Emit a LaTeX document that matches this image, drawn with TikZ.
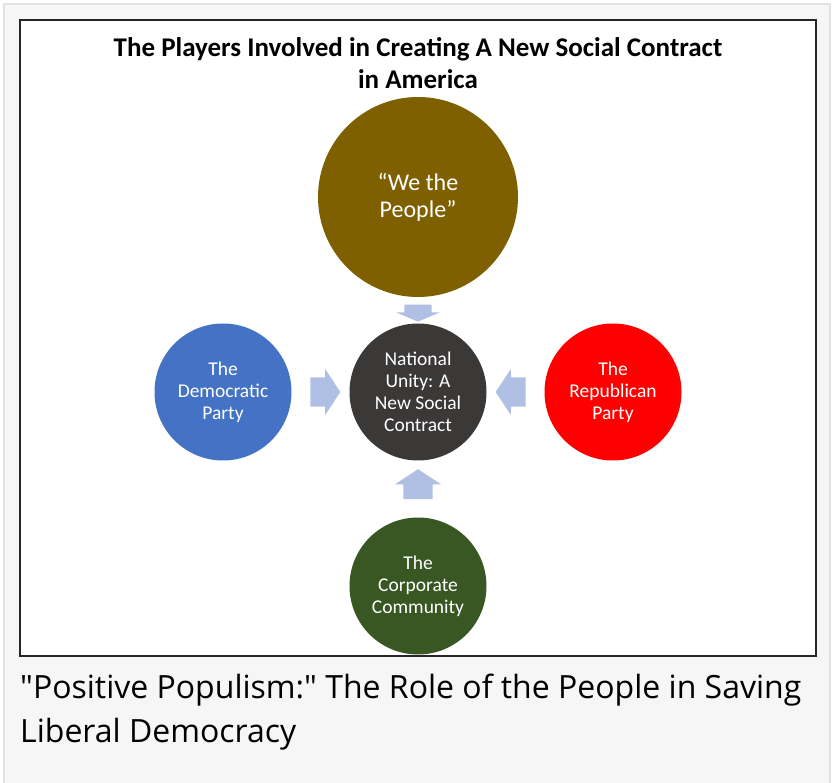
\documentclass[tikz,border=0pt]{standalone}
\usepackage{fontspec}
\setmainfont{Carlito}
\newfontfamily\captionfont{Open Sans}
\usetikzlibrary{shapes.arrows,calc}

\definecolor{panelgray}{HTML}{F6F6F6}
\definecolor{panelline}{HTML}{E2E2E2}
\definecolor{framegray}{HTML}{262626}
\definecolor{peoplegold}{HTML}{7F6000}
\definecolor{unitygray}{HTML}{3B3838}
\definecolor{demblue}{HTML}{4472C4}
\definecolor{repred}{HTML}{FF0000}
\definecolor{corpgreen}{HTML}{385723}
\definecolor{pushblue}{HTML}{B0C0E4}

\begin{document}
\begin{tikzpicture}[x=1pt,y=-1pt]

      \useasboundingbox (0,0) rectangle (833,783);
      \fill[white] (0,0) rectangle (833,783);
      \draw[panelline, fill=panelgray, line width=1.5pt] (4,4) rectangle (830,790);
      \draw[framegray, fill=white, line width=2pt] (20,20) rectangle (816,656);

      \node[font=\bfseries\fontsize{27}{32}\selectfont, align=center] (title) at (418,63)
        {The Players Involved in Creating A New Social Contract\\in America};

      \begin{scope}[every node/.style={circle,text=white,align=center,inner sep=0pt,
          minimum size=137pt,font=\fontsize{19.5}{22}\selectfont}]
        \node[fill=peoplegold, minimum size=200pt, font=\fontsize{24}{27}\selectfont]
          (people) at (418,197) {“We the\\People”};
        \node[fill=unitygray] (unity) at (418,392) {National\\Unity: A\\New Social\\Contract};
        \node[fill=demblue]   (dem)   at (223,392) {The\\Democratic\\Party};
        \node[fill=repred]    (rep)   at (613,392) {The\\Republican\\Party};
        \node[fill=corpgreen] (corp)  at (418,586) {The\\Corporate\\Community};
      \end{scope}

      \begin{scope}[every node/.style={single arrow,fill=pushblue,inner xsep=0pt,
          inner ysep=14.5pt,minimum height=30pt,single arrow head extend=8.5pt,
          single arrow tip angle=113}]
        \node[shape border rotate=270, inner xsep=13.5pt, inner ysep=0pt, minimum height=17pt,
          single arrow head extend=8pt, single arrow tip angle=134]
          (pushpeople) at ($(people.south)!.5!(unity.north)$) {};
        \node[shape border rotate=0]   (pushdem)  at ($(dem.east)!.5!(unity.west)$) {};
        \node[shape border rotate=180] (pushrep)  at ($(rep.west)!.5!(unity.east)$) {};
        \node[shape border rotate=90, inner xsep=14.5pt, inner ysep=0pt]
          (pushcorp) at ($(corp.north)!.5!(unity.south)$) {};
      \end{scope}

      \node[font=\captionfont\fontsize{32}{44}\selectfont, align=left, anchor=north west,
        inner sep=0pt] (caption) at (20,674)
        {"Positive Populism:" The Role of the People in Saving\\Liberal Democracy};

    \end{tikzpicture}
\end{document}
